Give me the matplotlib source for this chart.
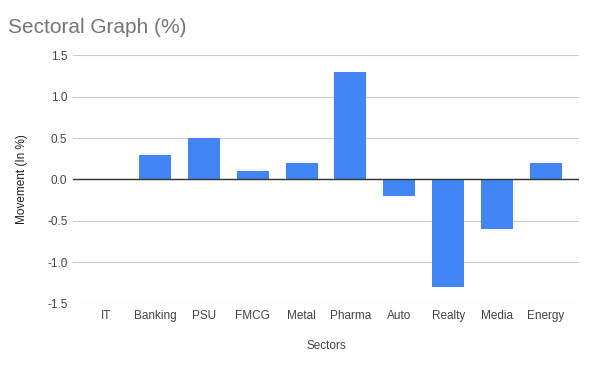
import numpy as np
import matplotlib.pyplot as plt

sectors = ['IT', 'Banking', 'PSU', 'FMCG', 'Metal', 'Pharma', 'Auto', 'Realty', 'Media', 'Energy']
movement = [0.0, 0.3, 0.5, 0.1, 0.2, 1.3, -0.2, -1.3, -0.6, 0.2]
yticks = [-1.5, -1.0, -0.5, 0.0, 0.5, 1.0, 1.5]

plt.rcParams['font.family'] = ['Liberation Sans', 'DejaVu Sans']

fig = plt.figure(figsize=(5.95, 3.67), dpi=100)
ax = fig.add_axes([0.1227, 0.1717, 0.8504, 0.6784])

x = np.arange(len(sectors))
ax.bar(x, movement, width=0.653, color='#4285F4', zorder=3)

# small margin between the plot edge and the first/last category slot
ax.set_xlim(-0.673, len(sectors) - 0.327)
ax.set_ylim(-1.5, 1.5)
ax.set_yticks(yticks)
ax.set_yticklabels([f'{v:.1f}' for v in yticks])
ax.set_xticks(x)
ax.set_xticklabels(sectors)

ax.grid(axis='y', color='#cccccc', linewidth=0.8, zorder=0)
ax.axhline(0, color='#333333', linewidth=1.0, zorder=4)
for s in ax.spines.values():
    s.set_visible(False)
ax.tick_params(axis='both', length=0, labelsize=8.5, colors='#444444')
ax.tick_params(axis='y', pad=4)
ax.tick_params(axis='x', pad=4.5)

ax.set_xlabel('Sectors', fontsize=8.5, color='#444444', labelpad=12.5)
ax.set_ylabel('Movement (In %)', fontsize=8.5, color='#222222', labelpad=14)

fig.text(0.013, 0.926, 'Sectoral Graph (%)', fontsize=15, color='#757575', va='center')

fig.savefig('out.png', dpi=100)
